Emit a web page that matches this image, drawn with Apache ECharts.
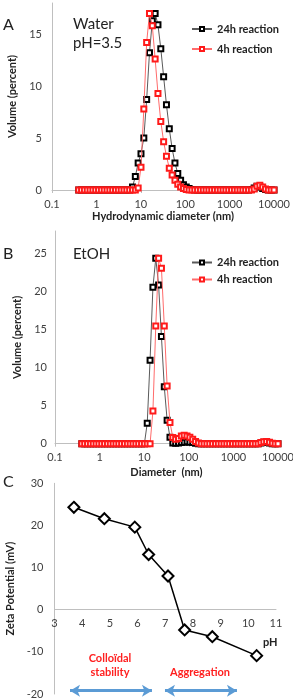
<!DOCTYPE html>
<html>
<head>
<meta charset="utf-8">
<script src="https://cdn.jsdelivr.net/npm/echarts@6/dist/echarts.min.js"></script>
<style>
html,body{margin:0;padding:0;background:#fff;}
#chart{width:293px;height:699px;}
</style>
</head>
<body>
<div id="chart"></div>
<script>
// Size bins (nm)
const sizeBins = [0.4, 0.4632, 0.5365, 0.6213, 0.7195, 0.8332, 0.9649, 1.117, 1.294, 1.499,
  1.736, 2.01, 2.328, 2.696, 3.122, 3.615, 4.187, 4.849, 5.615, 6.503,
  7.531, 8.721, 10.1, 11.7, 13.54, 15.69, 18.17, 21.04, 24.36, 28.21,
  32.67, 37.84, 43.82, 50.75, 58.77, 68.06, 78.82, 91.28, 105.7, 122.4,
  141.8, 164.2, 190.1, 220.2, 255, 295.3, 342, 396.1, 458.7, 531.2,
  615.1, 712.4, 825, 955.4, 1106, 1281, 1484, 1718, 1990, 2305,
  2669, 3091, 3580, 4145, 4801, 5560, 6439, 7456, 8635, 10000];

// Panel A (water, pH 3.5) volume %
const water24h = [0,0,0,0,0,0,0,0,0,0, 0,0,0,0,0,0,0,0,0,0.3,
  1.3,2.6,3.5,5.0,8.7,13.2,16.3,17.0,15.9,13.6,
  10.9,8.2,5.9,4.0,2.6,1.6,0.95,0.5,0.3,0.15,
  0.05,0,0,0,0,0,0,0,0,0, 0,0,0,0,0,0,0,0,0,0,
  0,0.05,0.2,0.35,0.3,0.15,0.05,0,0,0];
const water4h = [0,0,0,0,0,0,0,0,0,0, 0,0,0,0,0,0,0,0,0,0,
  0,0.2,2.2,7.8,14.2,17.0,15.8,12.6,9.3,6.6,
  4.65,3.25,2.1,1.45,0.95,0.55,0.3,0.15,0.05,0,
  0,0,0,0,0,0,0,0,0,0, 0,0,0,0,0,0,0,0,0,0,
  0,0,0.1,0.35,0.45,0.3,0.1,0,0,0];

// Panel B (EtOH) volume %
const etoh24h = [0,0,0,0,0,0,0,0,0,0, 0,0,0,0,0,0,0,0,0,0,
  0,0,0,2.7,11.0,20.6,24.4,20.9,14.1,7.5,
  3.1,0.85,0.1,0.05,0.1,0.15,0.2,0.25,0.2,0.15,
  0.05,0,0,0,0,0,0,0,0,0, 0,0,0,0,0,0,0,0,0,0,
  0,0,0,0.1,0.2,0.2,0.1,0,0,0];
const etoh4h = [0,0,0,0,0,0,0,0,0,0, 0,0,0,0,0,0,0,0,0,0,
  0,0,0,0,0,4.3,15.5,24.4,23.1,15.5,
  7.6,2.8,0.8,0.6,0.7,1.0,1.1,1.0,0.85,0.6,
  0.3,0.1,0,0,0,0,0,0,0,0, 0,0,0,0,0,0,0,0,0,0,
  0,0,0,0.15,0.25,0.3,0.2,0.05,0,0];

// Panel C zeta potential
const phValues = [3.7, 4.8, 5.9, 6.4, 7.1, 7.7, 8.7, 10.3];
const zetaValues = [24.3, 21.6, 19.6, 13.1, 8.0, -4.8, -6.4, -10.9];

const logTicks = [0.1, 1, 10, 100, 1000, 10000];
const legendNames = ['24h reaction', '4h reaction'];

const FONT = 'Lato, "Liberation Sans", sans-serif';
const AXIS_GRAY = '#bfbfbf';
const LABEL_COLOR = '#404040';
const BLACK_LINE = '#5a5a5a';
const RED_LINE = '#ff6b6b';
const RED_MARK = '#ff1a1a';

const ZETA_MIN = -20, ZETA_MAX = 30, GRID_C_HEIGHT = 210.7;

function pairs(xs, ys) { return xs.map((x, i) => [x, ys[i]]); }

function logAxis(gridIndex, name, nameGap, labelMargin) {
  return {
    type: 'log', logBase: 10, gridIndex, min: 0.1, max: 10000,
    name, nameLocation: 'middle', nameGap,
    nameTextStyle: {fontFamily: FONT, fontWeight: 'bold', fontSize: 11, color: '#222'},
    axisLine: {lineStyle: {color: AXIS_GRAY, width: 1}},
    axisTick: {show: true, length: 3, inside: false, lineStyle: {color: AXIS_GRAY}},
    minorTick: {show: false}, splitLine: {show: false}, minorSplitLine: {show: false},
    axisLabel: {fontFamily: FONT, fontSize: 11, color: LABEL_COLOR, margin: labelMargin,
      formatter: v => {
        const m = logTicks.find(t => Math.abs(t - v) / t < 1e-6);
        return m === undefined ? '' : String(m);
      }}
  };
}
function valAxis(gridIndex, min, max, interval, name, nameGap, labelMargin) {
  return {
    type: 'value', gridIndex, min, max, interval,
    name, nameLocation: 'middle', nameGap,
    nameTextStyle: {fontFamily: FONT, fontWeight: 'bold', fontSize: 11, color: '#222'},
    axisLine: {show: true, lineStyle: {color: AXIS_GRAY, width: 1}},
    axisTick: {show: false}, splitLine: {show: false},
    axisLabel: {fontFamily: FONT, fontSize: 11, color: LABEL_COLOR, margin: labelMargin,
      formatter: v => (Math.abs(v % interval) < 1e-9 ? String(v) : '')}
  };
}
function sizeSeries(name, idx, ys, lineColor, markColor, z) {
  return {
    name, type: 'line', xAxisIndex: idx, yAxisIndex: idx,
    data: pairs(sizeBins, ys),
    symbol: 'emptyRect', symbolSize: 5, showAllSymbol: true,
    lineStyle: {color: lineColor, width: 1},
    itemStyle: {color: markColor, borderColor: markColor, borderWidth: 1},
    z
  };
}
function legendAt(top, gap) {
  return {
    data: legendNames, orient: 'vertical', left: 186, top, itemGap: gap,
    itemWidth: 20, itemHeight: 5,
    textStyle: {fontFamily: FONT, fontWeight: 'bold', fontSize: 11, color: '#222', padding: [0, 0, 0, 0]}
  };
}
function txt(x, y, text, size, opts) {
  return {
    type: 'text', x, y,
    style: {text, font: (opts && opts.weight ? opts.weight + ' ' : '') + size + 'px ' + FONT,
      fill: (opts && opts.fill) || '#222', textAlign: (opts && opts.align) || 'left',
      textVerticalAlign: 'middle'}
  };
}

const chart = echarts.init(document.getElementById('chart'), null, {renderer: 'canvas'});
chart.setOption({
  animation: false,
  backgroundColor: '#fff',
  grid: [
    {left: 52, width: 222, top: 3, height: 187, outerBoundsMode: 'none', containLabel: false},
    {left: 55, width: 223, top: 231, height: 212.7, outerBoundsMode: 'none', containLabel: false},
    {left: 54.5, width: 221.5, top: 483.3, height: GRID_C_HEIGHT, outerBoundsMode: 'none', containLabel: false}
  ],
  xAxis: [
    logAxis(0, 'Hydrodynamic diameter (nm)', 21, 9),
    logAxis(1, 'Diameter  (nm)', 23, 8),
    {
      type: 'value', gridIndex: 2, min: 3, max: 11, interval: 1,
      position: 'bottom',
      offset: -GRID_C_HEIGHT * (0 - ZETA_MIN) / (ZETA_MAX - ZETA_MIN),
      axisLine: {onZero: false, lineStyle: {color: AXIS_GRAY}},
      axisTick: {show: false}, splitLine: {show: false},
      axisLabel: {fontFamily: FONT, fontSize: 11, color: LABEL_COLOR, margin: 8}
    }
  ],
  yAxis: [
    valAxis(0, 0, 18, 5, 'Volume (percent)', 30, 10),
    valAxis(1, 0, 28, 5, 'Volume (percent)', 31, 8),
    valAxis(2, ZETA_MIN, ZETA_MAX, 10, 'Zeta Potential (mV)', 30, 11)
  ],
  legend: [legendAt(18.5, 9), legendAt(252, 6)],
  series: [
    sizeSeries('24h reaction', 0, water24h, BLACK_LINE, '#000', 2),
    sizeSeries('4h reaction', 0, water4h, RED_LINE, RED_MARK, 3),
    sizeSeries('24h reaction', 1, etoh24h, BLACK_LINE, '#000', 2),
    sizeSeries('4h reaction', 1, etoh4h, RED_LINE, RED_MARK, 3),
    {
      name: 'zeta', type: 'line', xAxisIndex: 2, yAxisIndex: 2,
      data: pairs(phValues, zetaValues),
      symbol: 'emptyDiamond', symbolSize: 11,
      lineStyle: {color: '#000', width: 1.5},
      itemStyle: {color: '#000', borderColor: '#000', borderWidth: 1.5},
      z: 5,
      markLine: {
        silent: true, symbol: ['arrow', 'arrow'], symbolSize: [9, 10],
        label: {show: false},
        lineStyle: {color: '#5b9bd5', width: 3, type: 'solid'},
        data: [
          [{coord: [3.56, -19.2]}, {coord: [6.52, -19.2]}],
          [{coord: [6.99, -19.2]}, {coord: [9.59, -19.2]}]
        ]
      }
    }
  ],
  graphic: [
    txt(3, 25, 'A', 16),
    txt(73, 24, 'Water', 15),
    txt(73, 43, 'pH=3.5', 15),
    txt(3, 254, 'B', 16),
    txt(73, 254, 'EtOH', 15),
    txt(3, 482, 'C', 16),
    txt(263, 642, 'pH', 11, {weight: 'bold'}),
    txt(110, 658, 'Colloïdal', 11, {weight: 'bold', fill: '#ff2020', align: 'center'}),
    txt(110, 672, 'stability', 11, {weight: 'bold', fill: '#ff2020', align: 'center'}),
    txt(200, 672, 'Aggregation', 11, {weight: 'bold', fill: '#ff2020', align: 'center'})
  ]
});
</script>
</body>
</html>
